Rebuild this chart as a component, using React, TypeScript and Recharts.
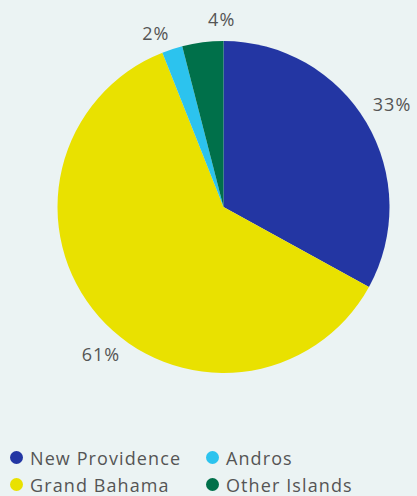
import React from "react";
import { PieChart, Pie, Cell, Legend } from "recharts";

const categories = ["New Providence", "Grand Bahama", "Andros", "Other Islands"];
const shares = [33, 61, 2, 4];
const colors = ["#2336a3", "#e9e100", "#2cc3ee", "#00704a"];
const legendOrder = ["New Providence", "Andros", "Grand Bahama", "Other Islands"];

const data = categories.map((name, i) => ({ name, value: shares[i] }));

const FONT = "'Open Sans', 'Noto Sans', sans-serif";
const TEXT = "#555555";
const RAD = Math.PI / 180;
const labelNudge: [number, number][] = [
  [5, -6],
  [20, 21],
  [-9, 7],
  [22, 1],
];

const renderLabel = (props: any) => {
  const { cx, cy, midAngle, outerRadius, index, value } = props;
  const r = outerRadius + 24;
  const [dx, dy] = labelNudge[index] || [0, 0];
  const x = cx + r * Math.cos(-midAngle * RAD) + dx;
  const y = cy + r * Math.sin(-midAngle * RAD) + dy;
  return (
    <text
      x={x}
      y={y}
      fill={TEXT}
      fontSize={18}
      letterSpacing={1}
      fontFamily={FONT}
      textAnchor="middle"
      dominantBaseline="central"
    >
      {`${value}%`}
    </text>
  );
};

const renderLegend = () => (
  <div
    style={{
      display: "grid",
      gridTemplateColumns: "196px 200px",
      rowGap: 4,
      fontFamily: FONT,
      fontSize: 18,
      letterSpacing: 1.1,
      color: TEXT,
      paddingLeft: 10,
    }}
  >
    {legendOrder.map((name) => {
      const i = categories.indexOf(name);
      return (
        <div key={name} style={{ display: "flex", alignItems: "center", height: 23 }}>
          <span
            style={{
              display: "inline-block",
              width: 13,
              height: 13,
              borderRadius: "50%",
              background: colors[i],
              marginRight: 7,
            }}
          />
          <span>{name}</span>
        </div>
      );
    })}
  </div>
);

export default function App() {
  return (
    <div
      style={{
        position: "absolute",
        left: 0,
        top: 0,
        width: 417,
        height: 496,
        background: "#ebf3f3",
      }}
    >
      <PieChart width={417} height={496} margin={{ top: 0, right: 0, bottom: 0, left: 0 }}>
        <Pie
          data={data}
          dataKey="value"
          nameKey="name"
          cx={223.5}
          cy={207}
          outerRadius={166}
          startAngle={90}
          endAngle={-270}
          stroke="none"
          label={renderLabel}
          labelLine={false}
          isAnimationActive={false}
        >
          {data.map((d, i) => (
            <Cell key={d.name} fill={colors[i]} />
          ))}
        </Pie>
        <Legend
          content={renderLegend}
          layout="horizontal"
          verticalAlign="bottom"
          align="left"
          wrapperStyle={{ left: 0, bottom: 0, width: 417 }}
        />
      </PieChart>
    </div>
  );
}
